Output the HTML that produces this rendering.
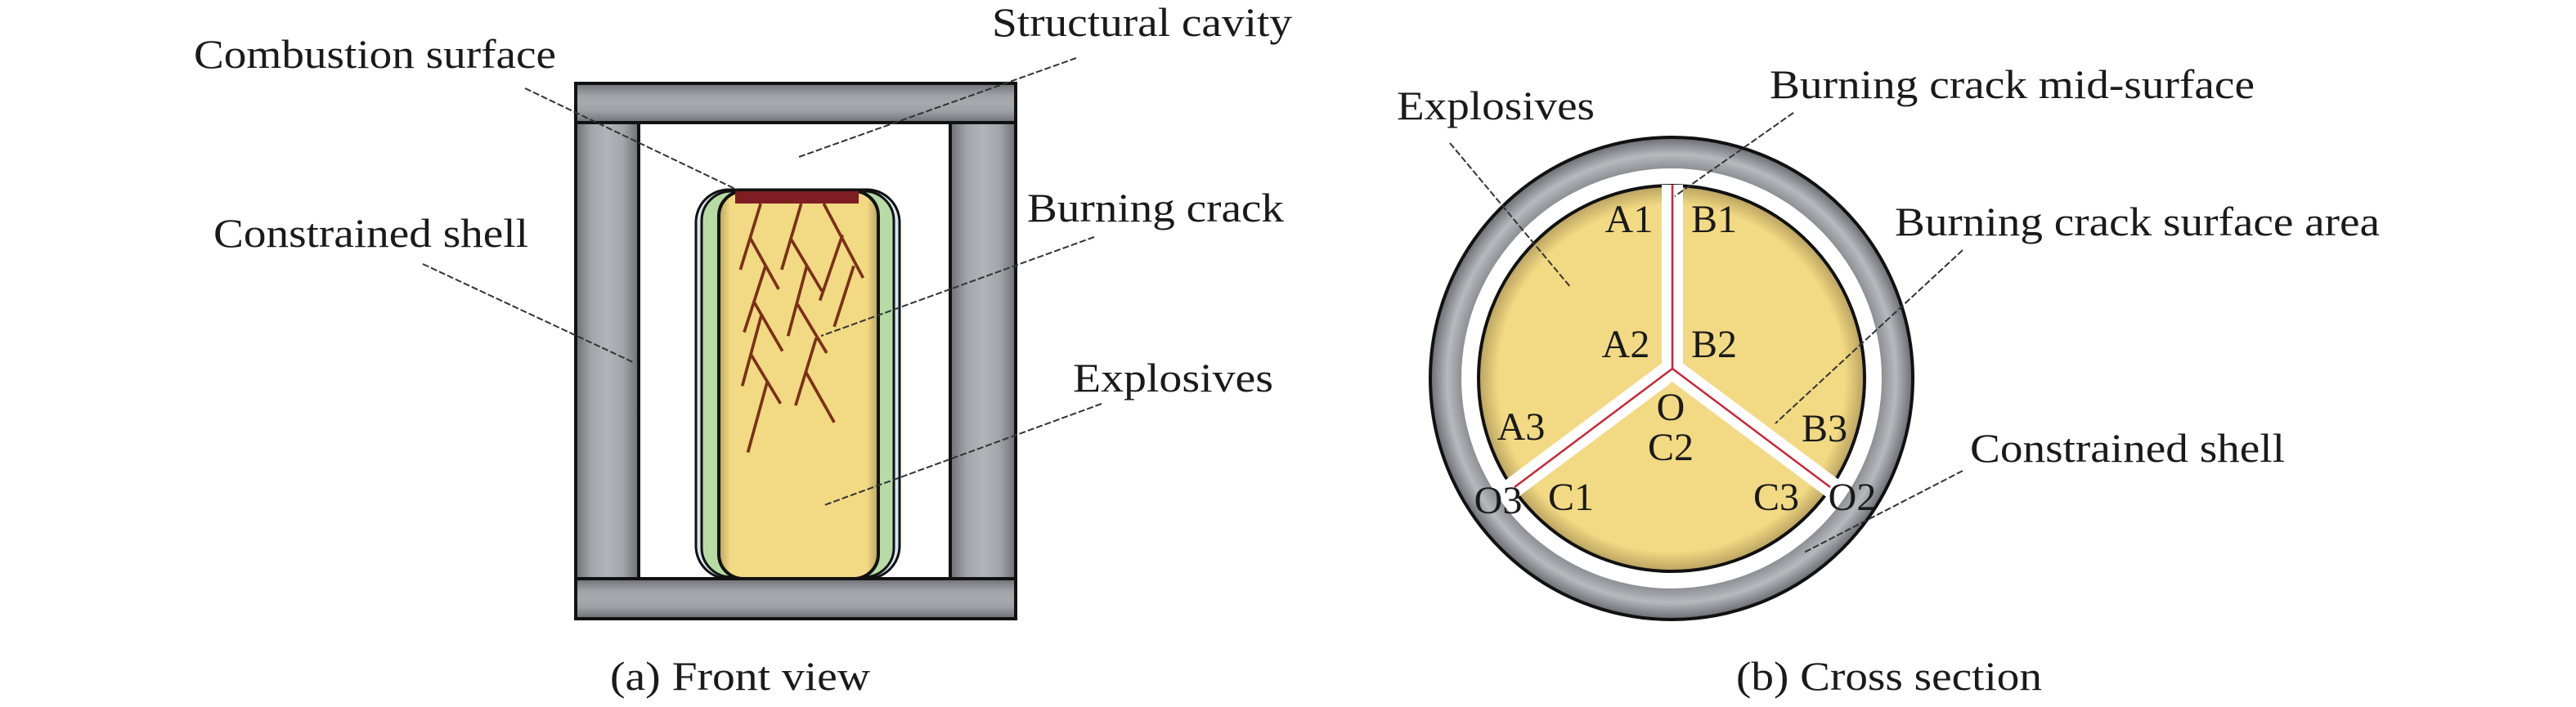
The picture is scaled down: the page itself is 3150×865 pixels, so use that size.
<!DOCTYPE html>
<html><head><meta charset="utf-8"><style>
html,body{margin:0;padding:0;background:#fff}
svg{display:block}
text{font-family:"Liberation Serif",serif;fill:#1a1a1a}
</style></head><body>
<svg width="3150" height="865" viewBox="0 0 3150 865" xmlns="http://www.w3.org/2000/svg">
<defs>
<linearGradient id="gv" x1="0" y1="0" x2="1" y2="0">
<stop offset="0" stop-color="#6e7076"/><stop offset="0.25" stop-color="#a4a5aa"/><stop offset="0.5" stop-color="#b3b4b8"/><stop offset="0.75" stop-color="#a4a5aa"/><stop offset="1" stop-color="#6e7076"/></linearGradient>
<linearGradient id="gh" x1="0" y1="0" x2="0" y2="1">
<stop offset="0" stop-color="#6e7076"/><stop offset="0.3" stop-color="#a0a1a6"/><stop offset="0.5" stop-color="#a8a9ad"/><stop offset="0.7" stop-color="#a0a1a6"/><stop offset="1" stop-color="#6e7076"/></linearGradient>
<radialGradient id="ring" cx="0.5" cy="0.5" r="0.5">
<stop offset="0.86" stop-color="#85878c"/><stop offset="0.93" stop-color="#b8b9bd"/><stop offset="1" stop-color="#6a6c72"/></radialGradient>
<radialGradient id="yel" cx="0.5" cy="0.5" r="0.5">
<stop offset="0.9" stop-color="#f2d983"/><stop offset="1" stop-color="#b9a260"/></radialGradient>
<linearGradient id="yelv" x1="0" y1="0" x2="1" y2="0">
<stop offset="0" stop-color="#b9a260"/><stop offset="0.07" stop-color="#f2d983"/><stop offset="0.93" stop-color="#f2d983"/><stop offset="1" stop-color="#b9a260"/></linearGradient>
</defs>

<!-- FRONT VIEW -->
<rect x="704" y="102" width="538" height="48" fill="url(#gh)" stroke="#111" stroke-width="4"/>
<rect x="704" y="708" width="538" height="49" fill="url(#gh)" stroke="#111" stroke-width="4"/>
<rect x="704" y="150" width="77" height="558" fill="url(#gv)" stroke="#111" stroke-width="4"/>
<rect x="1162" y="150" width="80" height="558" fill="url(#gv)" stroke="#111" stroke-width="4"/>
<rect x="781" y="150" width="381" height="558" fill="#fff" stroke="#111" stroke-width="4"/>

<rect x="851" y="232" width="249" height="476" rx="40" fill="#d8e6f2" stroke="#111" stroke-width="3"/>
<rect x="858" y="234" width="235" height="472" rx="36" fill="#b6dba4" stroke="#111" stroke-width="3"/>
<rect x="879" y="234" width="195" height="474" rx="30" fill="url(#yelv)" stroke="#111" stroke-width="4"/>
<rect x="899" y="234" width="151" height="15" fill="#7d1e22"/>

<g stroke="#7a3018" stroke-width="8" stroke-linecap="butt" fill="none" transform="translate(640,60) scale(0.4591)">
<line x1="632" y1="412" x2="578" y2="588"/><line x1="605" y1="505" x2="680" y2="640"/>
<line x1="645" y1="578" x2="588" y2="755"/><line x1="615" y1="675" x2="690" y2="805"/>
<line x1="635" y1="705" x2="583" y2="898"/><line x1="605" y1="812" x2="685" y2="945"/>
<line x1="650" y1="885" x2="598" y2="1075"/>
<line x1="740" y1="412" x2="688" y2="588"/><line x1="712" y1="505" x2="795" y2="645"/>
<line x1="755" y1="578" x2="705" y2="765"/><line x1="730" y1="680" x2="808" y2="810"/>
<line x1="780" y1="770" x2="725" y2="950"/><line x1="752" y1="860" x2="828" y2="995"/>
<line x1="800" y1="412" x2="905" y2="610"/><line x1="850" y1="495" x2="790" y2="670"/>
<line x1="880" y1="578" x2="828" y2="740"/>
</g>

<g stroke="#333" stroke-width="2" stroke-dasharray="8,3" fill="none">
<line x1="642" y1="108" x2="901" y2="232"/>
<line x1="1316" y1="71" x2="977" y2="192"/>
<line x1="517" y1="323" x2="776" y2="444"/>
<line x1="1338" y1="290" x2="1004" y2="411"/>
<line x1="1347" y1="494" x2="1008" y2="618"/>
</g>
<g font-size="50">
<text x="237" y="83" textLength="443" lengthAdjust="spacingAndGlyphs">Combustion surface</text>
<text x="1213" y="44" textLength="367" lengthAdjust="spacingAndGlyphs">Structural cavity</text>
<text x="261" y="302" textLength="385" lengthAdjust="spacingAndGlyphs">Constrained shell</text>
<text x="1256" y="271" textLength="314" lengthAdjust="spacingAndGlyphs">Burning crack</text>
<text x="1312" y="479" textLength="245" lengthAdjust="spacingAndGlyphs">Explosives</text>
<text x="746" y="844" textLength="318" lengthAdjust="spacingAndGlyphs">(a) Front view</text>
</g>

<!-- CROSS SECTION -->
<circle cx="2044" cy="463" r="295" fill="url(#ring)" stroke="#111" stroke-width="4"/>
<circle cx="2044" cy="463" r="257" fill="#fff"/>
<circle cx="2044" cy="463" r="236" fill="url(#yel)" stroke="#111" stroke-width="4"/>
<g stroke="#fff" stroke-width="26" stroke-linecap="butt" fill="none">
<line x1="2045" y1="451" x2="2045" y2="226"/>
<line x1="2045" y1="451" x2="1843" y2="602"/>
<line x1="2045" y1="451" x2="2247" y2="602"/>
</g>
<g stroke="#c8283a" stroke-width="2.5" fill="none">
<polyline points="2045,226 2045,451 1852,596"/>
<line x1="2045" y1="451" x2="2238" y2="596"/>
</g>
<g font-size="48" text-anchor="middle">
<text x="1992" y="284">A1</text><text x="2096" y="284">B1</text>
<text x="1988" y="437">A2</text><text x="2096" y="437">B2</text>
<text x="2043" y="514">O</text><text x="2043" y="563">C2</text>
<text x="1860" y="538">A3</text><text x="2231" y="540">B3</text>
<text x="1921" y="624">C1</text><text x="2172" y="624">C3</text>
<text x="1832" y="628">O3</text><text x="2265" y="624">O2</text>
</g>
<g stroke="#333" stroke-width="2" stroke-dasharray="8,3" fill="none">
<line x1="1773" y1="175" x2="1921" y2="352"/>
<line x1="2193" y1="138" x2="2048" y2="240"/>
<line x1="2400" y1="306" x2="2171" y2="518"/>
<line x1="2400" y1="576" x2="2206" y2="676"/>
</g>
<g font-size="50">
<text x="1708" y="146" textLength="242" lengthAdjust="spacingAndGlyphs">Explosives</text>
<text x="2164" y="120" textLength="593" lengthAdjust="spacingAndGlyphs">Burning crack mid-surface</text>
<text x="2317" y="288" textLength="593" lengthAdjust="spacingAndGlyphs">Burning crack surface area</text>
<text x="2409" y="565" textLength="385" lengthAdjust="spacingAndGlyphs">Constrained shell</text>
<text x="2123" y="844" textLength="374" lengthAdjust="spacingAndGlyphs">(b) Cross section</text>
</g>
</svg>
</body></html>
